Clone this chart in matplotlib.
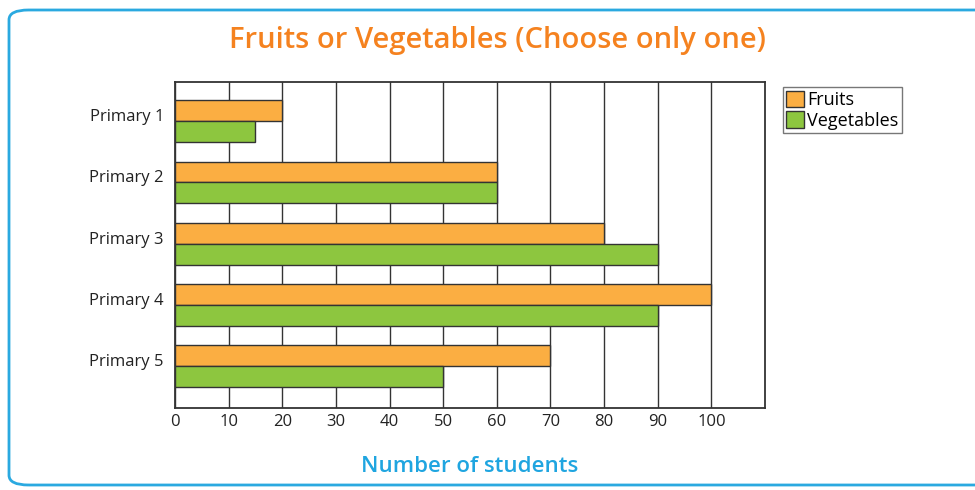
import matplotlib.pyplot as plt
import numpy as np
from matplotlib.patches import FancyBboxPatch

classes = ['Primary 1', 'Primary 2', 'Primary 3', 'Primary 4', 'Primary 5']
fruits = [20, 60, 80, 100, 70]
vegetables = [15, 60, 90, 90, 50]
xticks = [0, 10, 20, 30, 40, 50, 60, 70, 80, 90, 100]

orange = '#fbae42'
green = '#8dc63f'
edge = '#333333'

plt.rcParams['font.family'] = ['Open Sans', 'DejaVu Sans']

fig = plt.figure(figsize=(9.75, 4.9), dpi=100)
ax = fig.add_axes([175/975, 82/490, 590/975, 326/490])

y = np.arange(len(classes))
h = 0.34
ax.barh(y - h/2, fruits, height=h, color=orange, edgecolor=edge, linewidth=1, label='Fruits', zorder=3)
ax.barh(y + h/2, vegetables, height=h, color=green, edgecolor=edge, linewidth=1, label='Vegetables', zorder=3)

ax.set_xlim(0, 110)
ax.set_ylim(len(classes) - 0.32, -0.64)
ax.set_xticks(xticks)
# class labels sit a little above the middle of each pair
ax.set_yticks(y - 0.1)
ax.set_yticklabels(classes)
ax.tick_params(length=0, labelsize=12, colors='#222222')
ax.tick_params(axis='x', pad=4)
ax.tick_params(axis='y', pad=8)
ax.xaxis.grid(True, color=edge, linewidth=1, zorder=0)
for s in ax.spines.values():
    s.set_color(edge)
    s.set_linewidth(1.3)

ax.legend(loc='upper left', bbox_to_anchor=(1.03, 0.985), frameon=True, fancybox=False,
          edgecolor='#555555', fontsize=13, handlelength=1.0, handleheight=1.0,
          handletextpad=0.15, borderpad=0.2, labelspacing=0.15, borderaxespad=0)

fig.text(0.51, 0.918, 'Fruits or Vegetables (Choose only one)', ha='center', va='center',
         fontsize=21, fontweight='semibold', color='#f5821f')
ax.set_xlabel('Number of students', fontsize=16, fontweight='semibold', color='#1fa5e0', labelpad=19)

# rounded blue frame around the whole chart
frame = FancyBboxPatch((9/975, 5/490), 1.2, 475/490, transform=fig.transFigure,
                       boxstyle='round,pad=0,rounding_size=0.02', fill=False,
                       edgecolor='#2aa9e0', linewidth=2, clip_on=False)
fig.patches.append(frame)

plt.savefig('out.png', dpi=100)
